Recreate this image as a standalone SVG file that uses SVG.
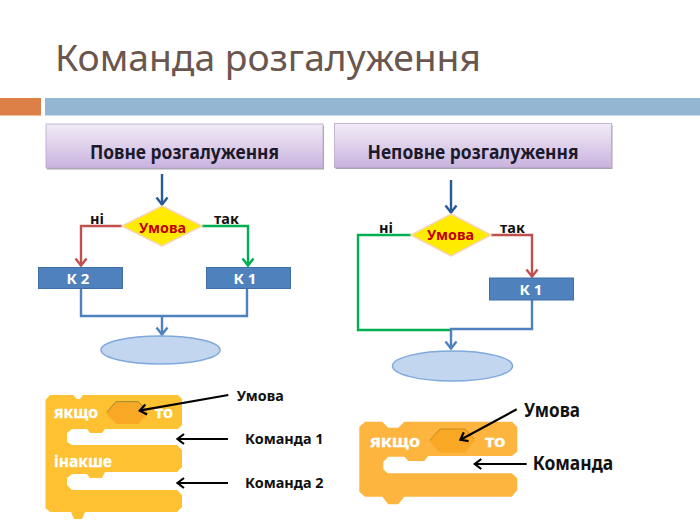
<svg xmlns="http://www.w3.org/2000/svg" width="700" height="525" viewBox="0 0 700 525">
<defs>
<linearGradient id="hd" x1="0" y1="0" x2="0" y2="1"><stop offset="0" stop-color="#f1ebf6"/><stop offset="0.55" stop-color="#dccdea"/><stop offset="1" stop-color="#c9b3de"/></linearGradient>
<marker id="aNavy" markerWidth="14" markerHeight="14" refX="10" refY="7" orient="auto" markerUnits="userSpaceOnUse"><path d="M2.500 1.500L9.500 7L2.500 12.500" fill="none" stroke="#2a5a96" stroke-width="2.400"/></marker>
<marker id="aRed" markerWidth="14" markerHeight="14" refX="10" refY="7" orient="auto" markerUnits="userSpaceOnUse"><path d="M2.500 1.500L9.500 7L2.500 12.500" fill="none" stroke="#c0504d" stroke-width="2.400"/></marker>
<marker id="aGreen" markerWidth="14" markerHeight="14" refX="10" refY="7" orient="auto" markerUnits="userSpaceOnUse"><path d="M2.500 1.500L9.500 7L2.500 12.500" fill="none" stroke="#00b050" stroke-width="2.400"/></marker>
<marker id="aBlue" markerWidth="14" markerHeight="14" refX="10" refY="7" orient="auto" markerUnits="userSpaceOnUse"><path d="M2.500 1.500L9.500 7L2.500 12.500" fill="none" stroke="#4f81bd" stroke-width="2.400"/></marker>
<marker id="aBlack" markerWidth="14" markerHeight="14" refX="10" refY="7" orient="auto" markerUnits="userSpaceOnUse"><path d="M3 2L9.500 7L3 12" fill="none" stroke="#000" stroke-width="2.200"/></marker>
</defs>
<style>
text{font-family:"Noto Sans","Open Sans","DejaVu Sans",sans-serif}
.t{font-size:37px;fill:#6a564e}
.h{font-size:19.500px;font-weight:700;fill:#1a1a2a;text-anchor:middle}
.l{font-size:14.500px;font-weight:700;fill:#111}
.u{font-size:15px;font-weight:700;fill:#c00000}
.k{font-size:15px;font-weight:700;fill:#fff;text-anchor:middle}
.b{fill:#4f81bd;stroke:#3f6fa8;stroke-width:1}
.d{fill:#ffeb00;stroke:#f5d5b0;stroke-width:1.500}
.e{fill:#c3d6ef;stroke:#7fa8dc;stroke-width:1.500}
.c{fill:none;stroke-width:2.400}
.s{fill:#fff;font-size:16px;font-weight:700;stroke:#fff;stroke-width:0.300}
.n{fill:#111;font-weight:700;font-size:14.500px}
.m{fill:#111;font-size:20px;font-weight:700}
.p{fill:none;stroke:#000;stroke-width:2.200}
</style>
<text class="t" x="55" y="71" textLength="426" lengthAdjust="spacingAndGlyphs">Команда розгалуження</text>
<rect x="0" y="98" width="41" height="17.500" fill="#dd8047"/>
<rect x="45" y="98" width="655" height="17.500" fill="#94b6d2"/>

<g id="header-full"><rect x="47" y="125.500" width="277" height="44" fill="#a9a3b0"/><rect x="46" y="124" width="277" height="44" fill="url(#hd)" stroke="#b9a9cc" stroke-width="0.800"/><text class="h" x="184.500" y="159" textLength="189" lengthAdjust="spacingAndGlyphs">Повне розгалуження</text></g>
<g id="header-partial"><rect x="335.500" y="125" width="277" height="44" fill="#a9a3b0"/><rect x="334.500" y="123.500" width="277" height="44" fill="url(#hd)" stroke="#b9a9cc" stroke-width="0.800"/><text class="h" x="473" y="159" textLength="211" lengthAdjust="spacingAndGlyphs">Неповне розгалуження</text></g>

<g id="connectors">
<path class="c" stroke="#2a5a96" marker-end="url(#aNavy)" d="M162 174V205"/>
<path class="c" stroke="#c0504d" marker-end="url(#aRed)" d="M122 226H81V266"/>
<path class="c" stroke="#00b050" marker-end="url(#aGreen)" d="M202 226H248V266"/>
<path class="c" stroke="#4f81bd" d="M81 288V316H247V288"/>
<path class="c" stroke="#4f81bd" marker-end="url(#aBlue)" d="M162 316V335"/>
<path class="c" stroke="#2a5a96" marker-end="url(#aNavy)" d="M451 180V213"/>
<path class="c" stroke="#00b050" d="M411 235H358V330H451"/>
<path class="c" stroke="#c0504d" marker-end="url(#aRed)" d="M491 235H532V277"/>
<path class="c" stroke="#4f81bd" marker-end="url(#aBlue)" d="M532 300V329H451V349"/>
</g>

<g id="cond-1"><path class="d" d="M162 206L202 226L162 246L122 226Z"/><text class="u" x="139" y="233" textLength="47" lengthAdjust="spacingAndGlyphs">Умова</text></g>
<g id="k2-1"><rect class="b" x="38.500" y="267.500" width="84" height="21"/><text class="k" x="78" y="283.500">К 2</text></g>
<g id="k1-1"><rect class="b" x="206.500" y="267.500" width="84" height="21"/><text class="k" x="245" y="283.500">К 1</text></g>
<g id="end-1"><ellipse class="e" cx="160.500" cy="350" rx="59.500" ry="14"/></g>
<g id="cond-2"><path class="d" d="M451 214L491 235L451 256L411 235Z"/><text class="u" x="427" y="240" textLength="47" lengthAdjust="spacingAndGlyphs">Умова</text></g>
<g id="k1-2"><rect class="b" x="489.500" y="278" width="84" height="22"/><text class="k" x="531" y="294.500">К 1</text></g>
<g id="end-2"><ellipse class="e" cx="452.500" cy="366" rx="60" ry="15"/></g>

<text class="l" x="90" y="224">ні</text>
<text class="l" x="214" y="224">так</text>
<text class="l" x="379" y="233">ні</text>
<text class="l" x="500" y="233">так</text>

<g id="block-full">
<path fill="#fdc131" d="M50 395H73L77 399H80L83 395H178L182 399V425L178 429H105L102 433H90L87 429H72L67 433V442L72 445H177L182 450V467L177 472H105L102 478H90L87 474H72L67 478V485L72 490H177L182 495V507L177 512H85L82 519H74L71 512H50L45.500 508V400Z"/>
<path fill="#f9a825" d="M116 401.700H138.300L148.300 413L138.300 424H116L106 413Z"/>
<path fill="none" stroke="#8f8d3a" stroke-width="1" d="M107 412L116 401.700H138.300L147 411"/>
<text class="s" x="54" y="418" textLength="44" lengthAdjust="spacingAndGlyphs">якщо</text>
<text class="s" x="155" y="418" textLength="18" lengthAdjust="spacingAndGlyphs">то</text>
<text class="s" x="54" y="467" textLength="58" lengthAdjust="spacingAndGlyphs">інакше</text>
</g>
<g id="block-partial">
<path fill="#fdb53f" d="M365 421.700H382.300L388.300 427.700H398.300L404.300 421.700H512L517.300 427V451.700L511.700 456H428.300L424.300 461H408.300L404.300 456.700H388.300L383.300 461.700V469.300L387.700 473.300H511.700L517.300 478.300V490L511.700 496.700H404.300L398.300 504.300H388.300L382.300 496.700H365L359.300 491.700V427Z"/>
<path fill="#f9a825" d="M440 429H465L475 440.700L465 452.700H440L429.300 440.700Z"/>
<path fill="none" stroke="#c98a20" stroke-width="1" d="M430 440L440 429H465L474 439"/>
<text class="s" x="370" y="446.700" textLength="50" lengthAdjust="spacingAndGlyphs">якщо</text>
<text class="s" x="485" y="446.700" textLength="20.500" lengthAdjust="spacingAndGlyphs">то</text>
</g>
<g id="pointers">
<path class="p" marker-end="url(#aBlack)" d="M228.300 395L139.300 410.700"/>
<path class="p" marker-end="url(#aBlack)" d="M228 439H177"/>
<path class="p" marker-end="url(#aBlack)" d="M228 483H177"/>
<path class="p" marker-end="url(#aBlack)" d="M516.700 409.300L460 440"/>
<path class="p" marker-end="url(#aBlack)" d="M526.700 464H474.300"/>
</g>
<text class="n" x="236.700" y="400.700" textLength="47" lengthAdjust="spacingAndGlyphs">Умова</text>
<text class="n" x="245" y="444" textLength="78.500" lengthAdjust="spacingAndGlyphs">Команда 1</text>
<text class="n" x="245" y="488" textLength="78.500" lengthAdjust="spacingAndGlyphs">Команда 2</text>
<text class="m" x="524" y="416.500" textLength="56" lengthAdjust="spacingAndGlyphs">Умова</text>
<text class="m" x="532.700" y="469.800" textLength="80.500" lengthAdjust="spacingAndGlyphs">Команда</text>
</svg>
